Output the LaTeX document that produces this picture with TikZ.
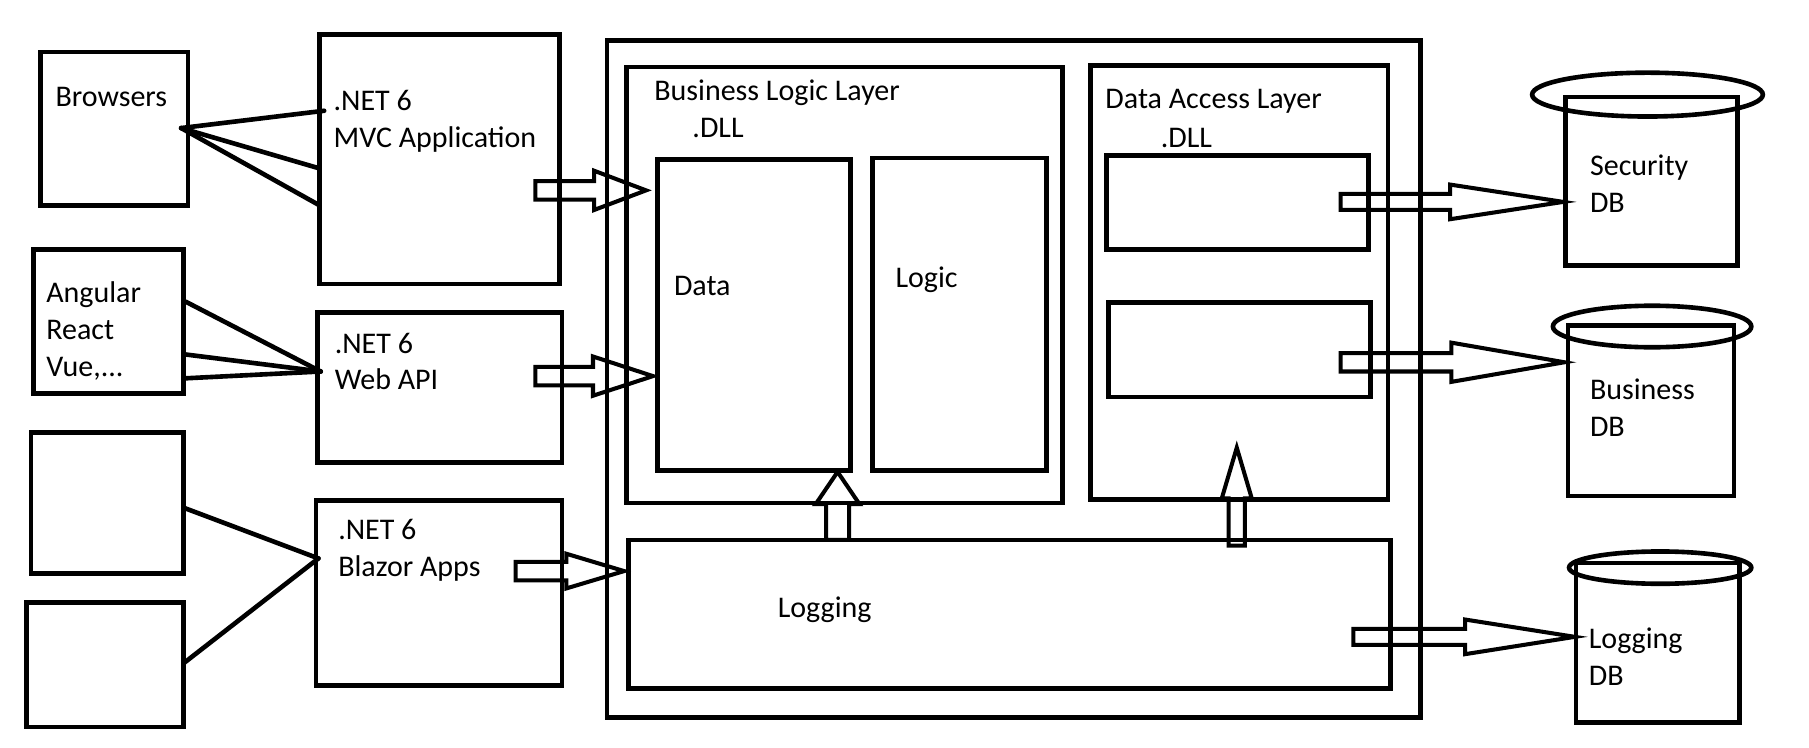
\documentclass[tikz,border=0pt]{standalone}
\usepackage{fontspec}
\setmainfont{Carlito}
\usetikzlibrary{fit,calc}
\newcommand\blkH[5]{\draw[blk] ($(#1)+(0,-#4)$) -- ($(#1)+(#3,-#4)$) -- ($(#1)+(#3,-#5)$) -- (#2) -- ($(#1)+(#3,#5)$) -- ($(#1)+(#3,#4)$) -- ($(#1)+(0,#4)$) -- cycle;}
\newcommand\blkV[5]{\draw[blk] ($(#1)+(-#4,0)$) -- ($(#1)+(-#4,-#3)$) -- ($(#1)+(-#5,-#3)$) -- (#2) -- ($(#1)+(#5,-#3)$) -- ($(#1)+(#4,-#3)$) -- ($(#1)+(#4,0)$) -- cycle;}
\begin{document}
\begin{tikzpicture}[x=1pt,y=-1pt,
  box/.style={draw, line width=4pt, inner sep=0pt},
  lbl/.style={font=\fontsize{26}{32}\selectfont, inner sep=0pt, anchor=base west, align=left},
  wire/.style={line width=4pt, line cap=round},
  blk/.style={line width=3.5pt, line join=miter},
  db/.style={line width=4pt}]
\useasboundingbox (0,0) rectangle (1568,648);
% left column
\node[box, fit={(35,45)(163,178)}] (br) {};
\node[box, fit={(29,216)(159,341)}] (fw) {};
\node[box, fit={(27,375)(159,497)}] (e1) {};
\node[box, fit={(23,522)(159,630)}] (e2) {};
\node[lbl] (brt) at (48,92) {Browsers};
\node[lbl] (fwt) at (40,326) {Angular\\React\\Vue,...};
% apps
\node[box, fit={(277,30)(485,246)}] (mvc) {};
\node[box, fit={(275,271)(487,401)}] (api) {};
\node[box, fit={(274,434)(487,594)}] (blz) {};
\node[lbl] (mvct) at (289,128) {.NET 6\\MVC Application};
\node[lbl] (apit) at (290,338) {.NET 6\\Web API};
\node[lbl] (blzt) at (293,500) {.NET 6\\Blazor Apps};
% wires
\coordinate (brp) at (157,111);
\coordinate (m1) at (281,96);
\coordinate (m2) at (277,146);
\coordinate (m3) at (277,178);
\draw[wire] (brp) -- (m1);
\draw[wire] (brp) -- (m2);
\draw[wire] (brp) -- (m3);
\coordinate (fw1) at ($(fw.east)+(0,-17)$);
\coordinate (fw2) at (159,307);
\coordinate (fw3) at (159,328);
\coordinate (ap) at (278,322);
\draw[wire] (fw1) -- (ap);
\draw[wire] (fw2) -- (ap);
\draw[wire] (fw3) -- (ap);
\coordinate (e1p) at (159,440);
\coordinate (e2p) at (159,575);
\coordinate (bp) at (276,484);
\draw[wire] (e1p) -- (bp);
\draw[wire] (e2p) -- (bp);
% container
\node[box, fit={(526,35)(1231,622)}] (cont) {};
\node[box, fit={(543,58)(921,436)}] (bll) {};
\node[lbl] (bllt) at (567,87) {Business Logic Layer};
\node[lbl] (blld) at (600,119) {.DLL};
\node[box, fit={(570,138)(737,408)}] (data) {};
\node[lbl] (datat) at (584,256) {Data};
\node[box, fit={(756,137)(907,408)}] (logic) {};
\node[lbl] (logict) at (776,249) {Logic};
\node[box, fit={(945,57)(1203,433)}] (dal) {};
\node[lbl] (dalt) at (958,94) {Data Access Layer};
\node[lbl] (dald) at (1006,128) {.DLL};
\node[box, fit={(959,135)(1186,216)}] (dal1) {};
\node[box, fit={(961,262)(1188,344)}] (dal2) {};
\node[box, fit={(545,468)(1205,597)}] (log) {};
\node[lbl] (logt) at (674,535) {Logging};
% databases
\node[box, fit={(1357,84)(1506,230)}] (sec) {};
\draw[db] (1428,82) ellipse [x radius=100, y radius=19];
\node[lbl] (sect) at (1378,184) {Security\\DB};
\node[box, fit={(1359,282)(1503,430)}] (bus) {};
\draw[db] (1432,283) ellipse [x radius=86, y radius=18];
\node[lbl] (bust) at (1378,378) {Business\\DB};
\node[box, fit={(1366,488)(1508,626)}] (ldb) {};
\draw[db] (1439,492) ellipse [x radius=79, y radius=14];
\node[lbl] (ldbt) at (1377,594) {Logging\\DB};
% block arrows
\coordinate (a1s) at (464,165); \coordinate (a1t) at (560,165);
\blkH{a1s}{a1t}{51}{8}{17}
\coordinate (a2s) at (464,326); \coordinate (a2t) at (566,326);
\blkH{a2s}{a2t}{50}{8}{17}
\coordinate (a3s) at (447,495); \coordinate (a3t) at (541,495);
\blkH{a3s}{a3t}{44}{8}{15}
\coordinate (a4s) at (726,468); \coordinate (a4t) at (726,409);
\blkV{a4s}{a4t}{31}{10}{19}
\coordinate (a5s) at (1072,473); \coordinate (a5t) at (1072,388);
\blkV{a5s}{a5t}{41}{7}{13}
\coordinate (a6s) at (1162,175); \coordinate (a6t) at (1355,175);
\blkH{a6s}{a6t}{95}{7}{15}
\coordinate (a7s) at (1162,314); \coordinate (a7t) at (1356,314);
\blkH{a7s}{a7t}{96}{8}{17}
\coordinate (a8s) at (1173,552); \coordinate (a8t) at (1365,552);
\blkH{a8s}{a8t}{97}{7}{15}
\end{tikzpicture}
\end{document}
